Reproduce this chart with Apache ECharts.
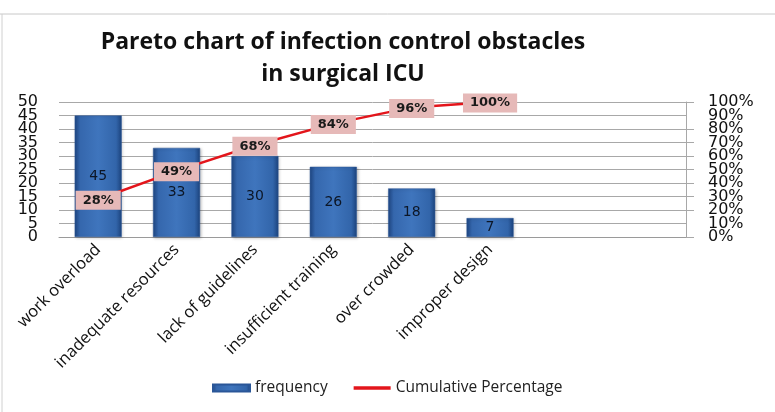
<!DOCTYPE html>
<html>
<head>
<meta charset="utf-8">
<script src="https://cdn.jsdelivr.net/npm/echarts@6/dist/echarts.min.js"></script>
<style>
  html, body { margin: 0; padding: 0; background: #fff; }
  #chart { width: 775px; height: 412px; }
</style>
</head>
<body>
<div id="chart"></div>
<script>
// categories (two empty slots at the end, as in the original)
const categories = [
  "work overload",
  "inadequate resources",
  "lack of guidelines",
  "insufficient training",
  "over crowded",
  "improper design",
  "",
  "",
];
const frequency = [45, 33, 30, 26, 18, 7];
const cumulativePct = [28, 49, 68, 84, 96, 100];

const FONT = "Open Sans";
const NUM_FONT = "DejaVu Sans";

const chart = echarts.init(document.getElementById("chart"));

// Bar fill: darker edges, lighter middle
const barFill = new echarts.graphic.LinearGradient(0, 0, 1, 0, [
  { offset: 0, color: "#1f4784" },
  { offset: 0.12, color: "#3567ad" },
  { offset: 0.5, color: "#3f75bd" },
  { offset: 0.88, color: "#3265aa" },
  { offset: 1, color: "#1c437d" },
]);

const tickText = { fontFamily: NUM_FONT, fontSize: 16, color: "#111" };

// The tick labels are packed so tight that echarts drops the one next to
// min / max. A second, label-only axis on each side prints just those two.
function valueAxis(pos, max, step, suffix, extra) {
  const second = (v) => v === step || v === max - step;
  return {
    type: "value",
    position: pos,
    min: 0,
    max: max,
    interval: step,
    axisLine: { show: false },
    axisTick: { show: false },
    splitLine: { show: false },
    axisLabel: Object.assign(
      {
        margin: pos === "left" ? 21 : 22,
        hideOverlap: false,
        showMinLabel: !extra,
        showMaxLabel: !extra,
        formatter: (v) => (extra && !second(v) ? "" : v + suffix),
      },
      tickText
    ),
  };
}

const leftMain = valueAxis("left", 50, 5, "", false);
leftMain.splitLine = { show: true, lineStyle: { color: "#a8a8a8", width: 1 } };

const rightMain = valueAxis("right", 100, 10, "%", false);
rightMain.axisLine = { show: true, lineStyle: { color: "#a8a8a8", width: 1 } };
rightMain.axisTick = { show: true, length: 8, lineStyle: { color: "#a8a8a8" } };

const option = {
  animation: false,
  backgroundColor: "#fff",
  title: {
    text: "Pareto chart of infection control obstacles\nin surgical ICU",
    left: 338,
    top: 21,
    textAlign: "center",
    textStyle: {
      fontFamily: FONT,
      fontWeight: "bold",
      fontSize: 23,
      lineHeight: 32,
      color: "#111",
    },
  },
  legend: {
    bottom: 11,
    left: 207,
    itemGap: 26,
    itemWidth: 37,
    itemHeight: 7,
    textStyle: { fontFamily: FONT, fontSize: 15.5, color: "#222" },
    data: [
      { name: "frequency", icon: "rect" },
      { name: "Cumulative Percentage", icon: "path://M0,0 L10,0 L10,1 L0,1 Z" },
    ],
  },
  graphic: [
    {
      type: "line",
      shape: { x1: 0, y1: 14, x2: 775, y2: 14 },
      style: { stroke: "#c8c8c8", lineWidth: 1 },
    },
    {
      type: "line",
      shape: { x1: 2, y1: 14, x2: 2, y2: 412 },
      style: { stroke: "#d0d0d0", lineWidth: 1 },
    },
  ],
  grid: {
    left: 59,
    right: 89,
    top: 102,
    bottom: 175,
  },
  xAxis: {
    type: "category",
    data: categories,
    axisTick: { show: false },
    axisLine: { lineStyle: { color: "#9a9a9a", width: 1 } },
    axisLabel: {
      rotate: 45,
      interval: 0,
      margin: 10,
      fontFamily: FONT,
      fontSize: 16.5,
      color: "#111",
    },
  },
  yAxis: [
    leftMain,
    rightMain,
    valueAxis("left", 50, 5, "", true),
    valueAxis("right", 100, 10, "%", true),
  ],
  series: [
    {
      name: "frequency",
      type: "bar",
      data: frequency,
      barWidth: "60%",
      itemStyle: {
        color: barFill,
        borderColor: "#2a5698",
        borderWidth: 0.5,
        shadowColor: "rgba(0,0,0,0.25)",
        shadowBlur: 3,
        shadowOffsetX: 1,
        shadowOffsetY: 1,
      },
      label: {
        show: true,
        position: "inside",
        fontFamily: NUM_FONT,
        fontSize: 14,
        color: "#0c1626",
      },
      z: 2,
    },
    {
      name: "Cumulative Percentage",
      type: "line",
      yAxisIndex: 1,
      data: cumulativePct,
      symbol: "circle",
      symbolSize: 1,
      showSymbol: true,
      lineStyle: { color: "#e3151b", width: 2.5 },
      itemStyle: { color: "#e3151b" },
      label: {
        show: true,
        position: "top",
        distance: 0,
        offset: [0, 11],
        formatter: "{c}%",
        fontFamily: NUM_FONT,
        fontWeight: "bold",
        fontSize: 13,
        color: "#1a1a1a",
        backgroundColor: "#e6b9b8",
        padding: [3, 7],
      },
      z: 5,
    },
  ],
};

chart.setOption(option);
</script>
</body>
</html>
